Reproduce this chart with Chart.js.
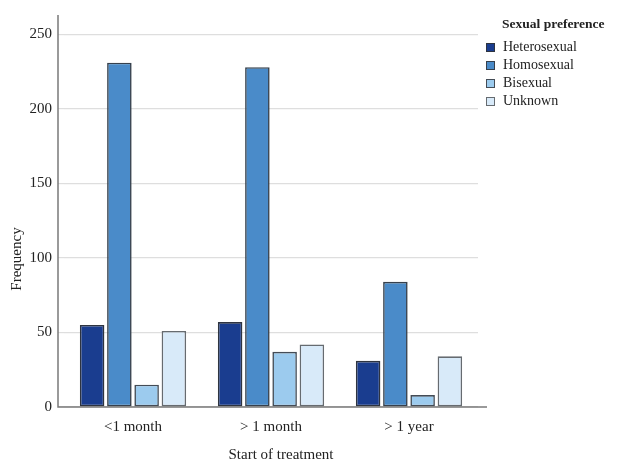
<!DOCTYPE html>
<html>
<head>
<meta charset="utf-8">
<script src="https://cdn.jsdelivr.net/npm/chart.js@4.4.0/dist/chart.umd.min.js"></script>
<style>
  html, body { margin: 0; padding: 0; background: #fff; }
  #wrap { width: 621px; height: 473px; }
</style>
</head>
<body>
<div id="wrap"><canvas id="freqChart"></canvas></div>
<script>
// data
const categories = ['<1 month', '> 1 month', '> 1 year'];
const heterosexual = [55, 57, 31];
const homosexual = [231, 228, 84];
const bisexual = [15, 37, 8];
const unknown = [51, 42, 34];
const yTicks = [0, 50, 100, 150, 200, 250];

const serif = "'Liberation Serif', 'DejaVu Serif', serif";
const textColor = '#222';

// axis lines stick out a bit past the plot area, like the SPSS output
const axisLines = {
    id: 'axisLines',
    afterDatasetsDraw(chart) {
        const {ctx, chartArea} = chart;
        ctx.save();
        ctx.strokeStyle = '#7a7a7a';
        ctx.lineWidth = 1.5;
        ctx.beginPath();
        ctx.moveTo(chartArea.left - 6, chartArea.top);
        ctx.lineTo(chartArea.left - 6, chartArea.bottom);
        ctx.lineTo(chartArea.right + 9, chartArea.bottom);
        ctx.stroke();
        ctx.restore();
    }
};

// axis titles sit a bit off centre, legend on the right
const extras = {
    id: 'extras',
    afterDraw(chart) {
        const {ctx, chartArea} = chart;
        ctx.save();
        ctx.fillStyle = textColor;
        ctx.font = '15px ' + serif;
        ctx.textAlign = 'center';
        ctx.textBaseline = 'middle';
        ctx.fillText('Start of treatment', (chartArea.left + chartArea.right) / 2 + 10, 455);
        ctx.translate(17, chartArea.top + 244);
        ctx.rotate(-Math.PI / 2);
        ctx.fillText('Frequency', 0, 0);
        ctx.restore();

        // legend
        const x0 = chartArea.right + 8;
        ctx.save();
        ctx.textAlign = 'left';
        ctx.textBaseline = 'middle';
        ctx.fillStyle = textColor;
        ctx.font = 'bold 13.5px ' + serif;
        ctx.fillText('Sexual preference', x0 + 16, 25);
        ctx.font = '14px ' + serif;
        chart.data.datasets.forEach(function (ds, i) {
            const cy = 47.5 + i * 18;
            ctx.fillStyle = ds.backgroundColor;
            ctx.fillRect(x0, cy - 4.5, 9, 9);
            ctx.strokeStyle = ds.borderColor;
            ctx.lineWidth = 1;
            ctx.strokeRect(x0 + 0.5, cy - 4, 8, 8);
            ctx.fillStyle = textColor;
            ctx.fillText(ds.label, x0 + 17, cy);
        });
        ctx.restore();
    }
};

const barStyle = {
    borderWidth: 1.6,
    borderSkipped: false,
    categoryPercentage: 0.79,
    barPercentage: 0.9
};

const chart = new Chart(document.getElementById('freqChart').getContext('2d'), {
    type: 'bar',
    data: {
        labels: categories,
        datasets: [
            Object.assign({label: 'Heterosexual', data: heterosexual, backgroundColor: '#1a3d8f', borderColor: '#2e3440'}, barStyle),
            Object.assign({label: 'Homosexual', data: homosexual, backgroundColor: '#4a8bc9', borderColor: '#36404c'}, barStyle),
            Object.assign({label: 'Bisexual', data: bisexual, backgroundColor: '#9ccbee', borderColor: '#444c56'}, barStyle),
            Object.assign({label: 'Unknown', data: unknown, backgroundColor: '#d8eaf9', borderColor: '#666b70'}, barStyle)
        ]
    },
    options: {
        responsive: true,
        maintainAspectRatio: false,
        animation: false,
        layout: {
            padding: {top: 13, right: 143, bottom: 0, left: 0}
        },
        plugins: {
            legend: {display: false},
            tooltip: {enabled: false}
        },
        scales: {
            x: {
                grid: {display: false, drawTicks: false},
                border: {display: false},
                ticks: {
                    color: textColor,
                    font: {family: serif, size: 15},
                    padding: 11
                },
                afterFit(scale) { scale.height = 66; }
            },
            y: {
                min: 0,
                max: 263,
                grid: {color: '#dedede', lineWidth: 1.2, drawTicks: true, tickLength: 6},
                border: {display: false},
                afterBuildTicks(scale) {
                    scale.ticks = yTicks.map(v => ({value: v}));
                },
                ticks: {
                    color: textColor,
                    font: {family: serif, size: 15},
                    padding: 6,
                    includeBounds: false
                },
                afterFit(scale) { scale.width = 64; }
            }
        }
    },
    plugins: [axisLines, extras]
});
</script>
</body>
</html>
